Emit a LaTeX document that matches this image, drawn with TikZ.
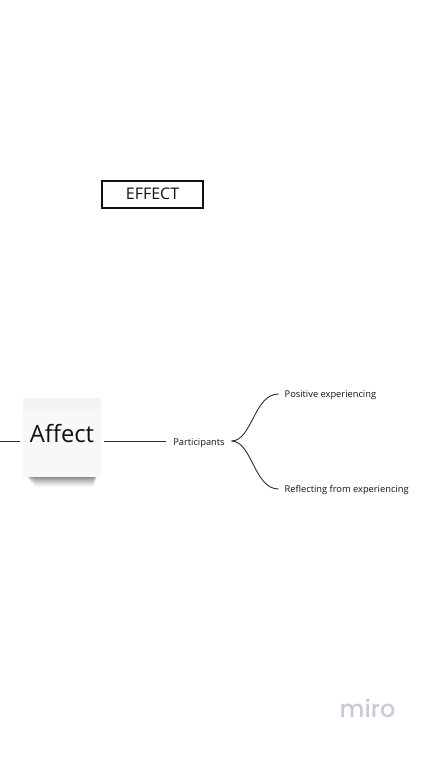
\documentclass[tikz,border=0pt]{standalone}
\usepackage{fontspec}
\setmainfont{Open Sans}
\newfontfamily\logofont{Poppins Medium}
\usetikzlibrary{calc}
\definecolor{ink}{HTML}{111114}
\definecolor{linegray}{HTML}{2E2E32}
\definecolor{stickyfill}{HTML}{F7F8FA}
\definecolor{stickytop}{HTML}{F2F2F4}
\definecolor{logogray}{HTML}{C9C9DA}
\tikzset{
  x=1pt,y=-1pt,
  leaf/.style={inner sep=0pt,anchor=west,font=\fontsize{9.3}{12}\selectfont,text=ink},
  conn/.style={draw=linegray,line width=0.9pt},
  sticky/.style={minimum width=78pt,minimum height=78.5pt,inner sep=0pt,font=\fontsize{23.8}{28}\selectfont,text=ink,
    path picture={
      \fill[stickyfill] (path picture bounding box.south west) rectangle (path picture bounding box.north east);
      \shade[top color=stickytop,bottom color=stickyfill] (path picture bounding box.north west) rectangle ($(path picture bounding box.north east)+(0,18)$);
    }},
  framebox/.style={draw=ink,line width=1.6pt,fill=white,minimum width=100.5pt,minimum height=27.5pt,inner sep=0pt,font=\fontsize{16}{20}\selectfont,text=ink}
}
\begin{document}
\begin{tikzpicture}
\useasboundingbox (0,0) rectangle (436,758);
\fill[white] (0,0) rectangle (436,758);
% shadow beneath the sticky note
\foreach \g/\o in {11/0.03,10/0.03,9/0.04,8/0.04,7/0.05,6/0.05,5/0.06,4/0.07,3/0.08,2/0.10,1/0.14}{
  \fill[black,opacity=\o] (25+\g*0.9,474) rectangle (97.5-\g*0.4,476+\g);
}
\node[sticky] (affect) at (62,437.25) {\raisebox{7.5pt}{Affect}};
\node[framebox] (effect) at (152.5,194.5) {\raisebox{1pt}{EFFECT}};
\node[inner sep=0pt,font=\fontsize{9.3}{12}\selectfont,text=ink] (part) at (199,443) {Participants};
\node[leaf] (pos) at (284.5,395.5) {Positive experiencing};
\node[leaf] (refl) at (284.5,490.5) {Reflecting from experiencing};
\coordinate (leftend) at (0,441);
\coordinate (fork) at (231.5,441);
\coordinate (gapleft) at (19.5,441);
\coordinate (gapright) at (104,441);
\coordinate (partin) at (166,441);
\coordinate (posin) at (278.5,394);
\coordinate (reflin) at (278.5,489);
\draw[conn] (leftend) -- (gapleft);
\draw[conn] (gapright) -- (partin);
\draw[conn] (fork) .. controls (252,441) and (254,394) .. (posin);
\draw[conn] (fork) .. controls (252,441) and (254,489) .. (reflin);
\node[inner sep=0pt,font=\logofont\fontsize{24}{28}\selectfont,text=logogray] (miro) at (367.5,708) {miro};
\end{tikzpicture}
\end{document}
